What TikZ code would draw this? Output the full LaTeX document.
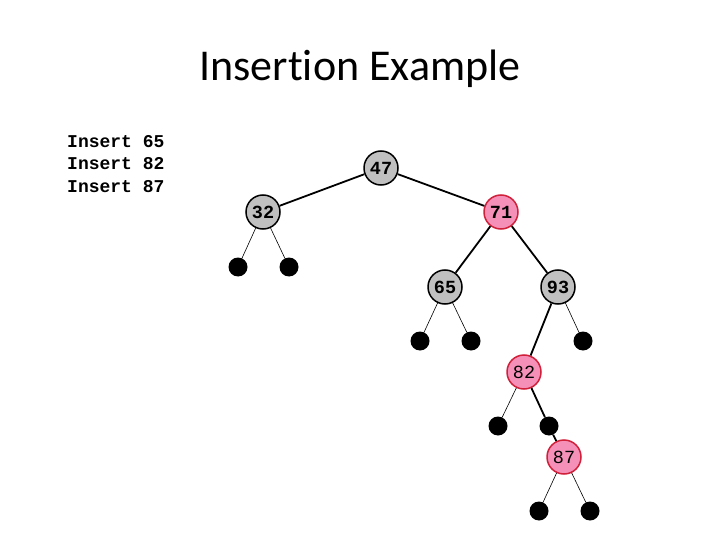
\documentclass[tikz,border=0pt]{standalone}
\usepackage{fontspec}
\setmainfont{Carlito}[Ligatures=CommonOff]
\newfontfamily\codefont{Liberation Mono}
\definecolor{nodegray}{HTML}{C0C0C0}
\definecolor{nodepink}{HTML}{F590B8}
\definecolor{nodered}{HTML}{D0203A}
\begin{document}
\begin{tikzpicture}[x=1pt,y=-1pt,
    blacknode/.style={circle,draw=black,line width=1.5pt,fill=nodegray,minimum size=34pt,inner sep=0pt,font=\codefont\bfseries\fontsize{18.5}{18.5}\selectfont},
    rednode/.style={circle,draw=nodered,line width=1.5pt,fill=nodepink,minimum size=34pt,inner sep=0pt,font=\codefont\fontsize{18.5}{18.5}\selectfont},
    leaf/.style={circle,fill=black,minimum size=19pt,inner sep=0pt},
    treeedge/.style={line width=1.8pt},
    leafedge/.style={line width=0.6pt}]
    \useasboundingbox (0,0) rectangle (720,540);
    % title and the list of insertions
    \node (title) at (360,69) {\fontsize{44}{44}\selectfont Insertion Example};
    \node[anchor=west,align=left,inner sep=0pt,font=\codefont\bfseries\fontsize{18}{22.5}\selectfont] (list) at (67,164) {Insert 65\\Insert 82\\Insert 87};
    % tree nodes
    \node[blacknode] (n47) at (381,168) {47};
    \node[blacknode] (n32) at (263,212) {32};
    \node[rednode,font=\codefont\bfseries\fontsize{18.5}{18.5}\selectfont] (n71) at (501,212) {71};
    \node[blacknode] (n65) at (445,287) {65};
    \node[blacknode] (n93) at (558,287) {93};
    \node[rednode] (n82) at (524,372) {82};
    \node[rednode] (n87) at (564,457) {87};
    % leaves
    \node[leaf] (l32a) at (238,267) {};
    \node[leaf] (l32b) at (289,267) {};
    \node[leaf] (l65a) at (420,341) {};
    \node[leaf] (l65b) at (471,341) {};
    \node[leaf] (l93b) at (583,341) {};
    \node[leaf] (l82a) at (498,426) {};
    \node[leaf] (l82b) at (549,426) {};
    \node[leaf] (l87a) at (539,511) {};
    \node[leaf] (l87b) at (590,511) {};
    % edges
    \draw[treeedge] (n47) -- (n32);
    \draw[treeedge] (n47) -- (n71);
    \draw[treeedge] (n71) -- (n65);
    \draw[treeedge] (n71) -- (n93);
    \draw[treeedge] (n93) -- (n82);
    \draw[treeedge] (n82) -- (l82b);
    \draw[treeedge] (l82b) -- (n87);
    \draw[leafedge] (n32) -- (l32a);
    \draw[leafedge] (n32) -- (l32b);
    \draw[leafedge] (n65) -- (l65a);
    \draw[leafedge] (n65) -- (l65b);
    \draw[leafedge] (n93) -- (l93b);
    \draw[leafedge] (n82) -- (l82a);
    \draw[leafedge] (n87) -- (l87a);
    \draw[leafedge] (n87) -- (l87b);
\end{tikzpicture}
\end{document}
